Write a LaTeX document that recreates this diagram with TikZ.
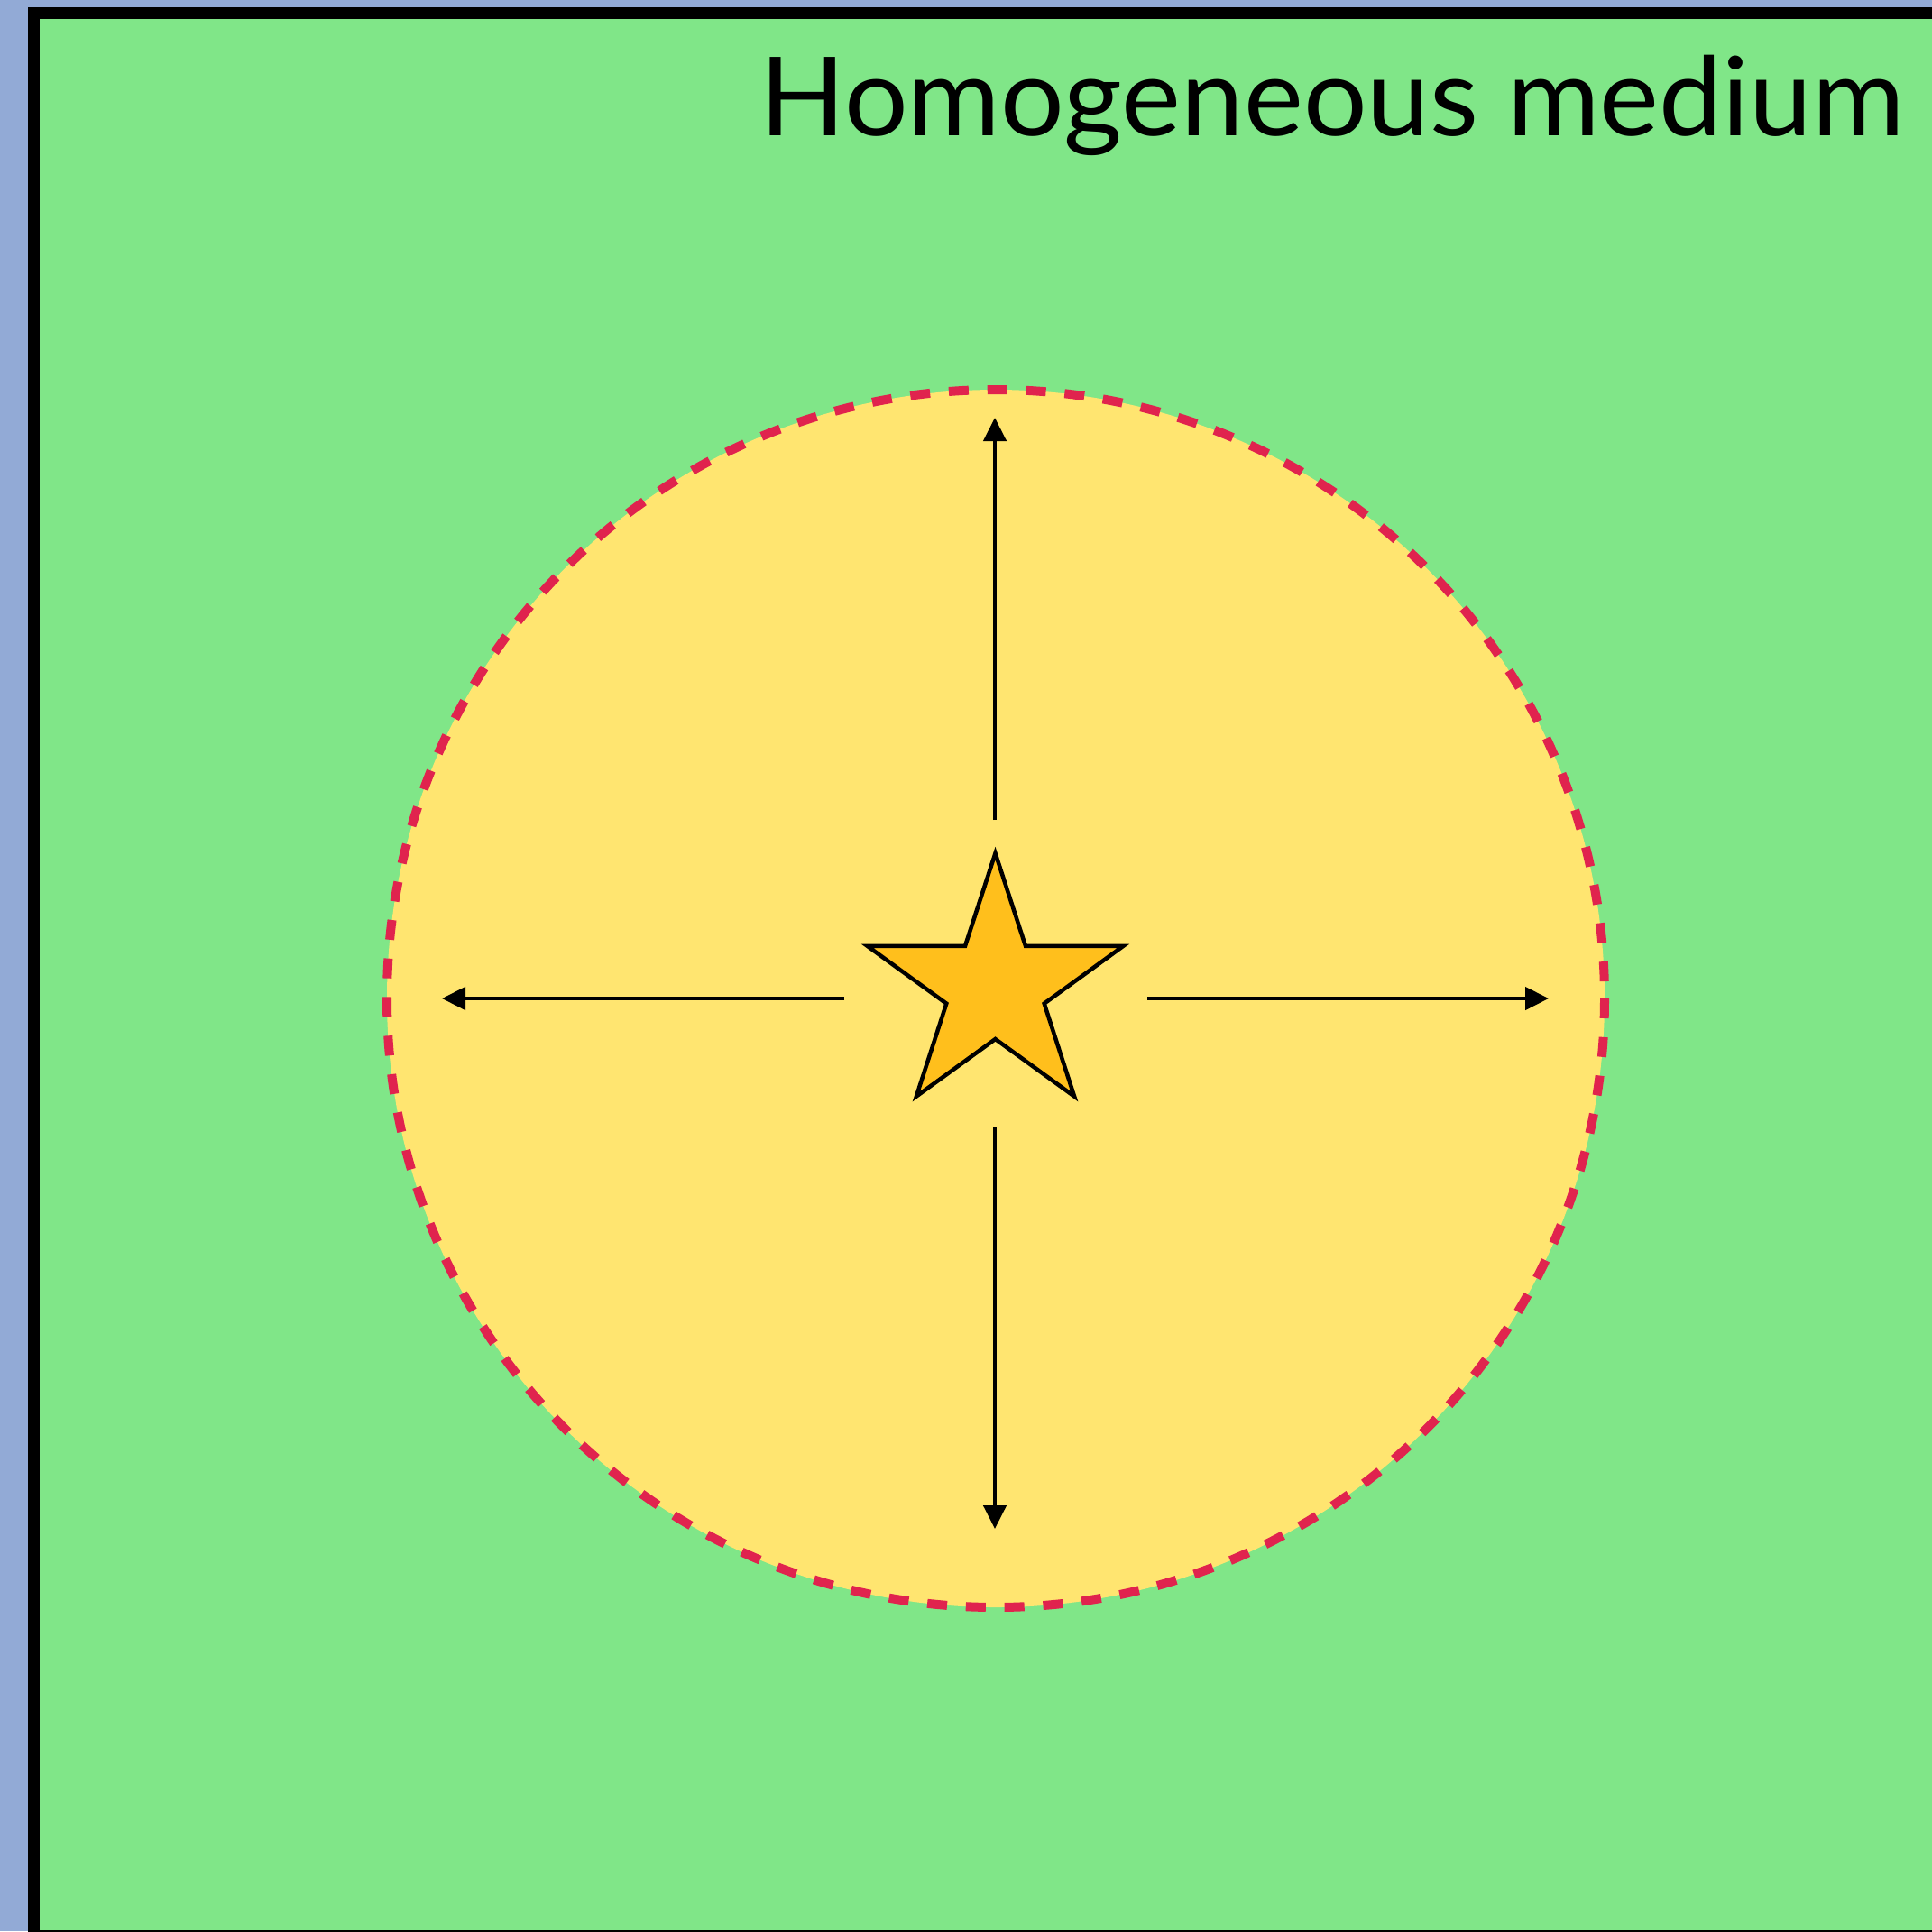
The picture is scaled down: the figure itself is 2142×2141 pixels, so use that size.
\documentclass[tikz,border=0pt]{standalone}
\usepackage{fontspec}
\setmainfont{Lato}
\usetikzlibrary{arrows.meta,calc}
\definecolor{bgblue}{HTML}{92AAD6}
\definecolor{medgreen}{HTML}{80E688}
\definecolor{zoneyellow}{HTML}{FFE570}
\definecolor{starfill}{HTML}{FFBF1C}
\definecolor{frontred}{HTML}{E0234E}
\tikzset{
  panel/.style={draw=black, line width=0.13cm, fill=medgreen},
  front/.style={draw=frontred, line width=0.1cm, dash pattern=on 0.22cm off 0.2084cm},
  ray/.style={draw=black, line width=0.045cm, -{Triangle[length=0.26cm, width=0.25cm]}},
  starshape/.style={draw=black, line width=0.045cm, fill=starfill, line join=miter},
  titletext/.style={anchor=base east, inner sep=0pt, font=\fontsize{34.5}{40}\selectfont}
}
\begin{document}
\begin{tikzpicture}[x=0.01cm, y=-0.01cm]
\useasboundingbox (0,0) rectangle (2142,2141);
\clip (0,0) rectangle (2142,2141);
\fill[bgblue] (0,0) rectangle (2142,2141);
\draw[panel] (37.5,14.5) rectangle (2170,2146.5);
\node[titletext] (title) at (2112,150) {\scalebox{1.028}[1]{Homogeneous medium}};
\coordinate (c) at (1104,1107);
\fill[zoneyellow] (c) circle[radius=675];
\draw[front] (c) circle[radius=675];
\coordinate (s) at (1103.5,1095);
\draw[starshape] ($(s)+(-90:149)$)
  \foreach \k in {0,...,4} { -- ($(s)+({-90+72*\k}:149)$) -- ($(s)+({-54+72*\k}:57)$) } -- cycle;
\coordinate (upS) at (1103,909);
\coordinate (upE) at (1103,463);
\coordinate (dnS) at (1103,1250);
\coordinate (dnE) at (1103,1695);
\coordinate (lfS) at (936,1107);
\coordinate (lfE) at (490,1107);
\coordinate (rtS) at (1272,1107);
\coordinate (rtE) at (1717,1107);
\draw[ray] (upS) -- (upE);
\draw[ray] (dnS) -- (dnE);
\draw[ray] (lfS) -- (lfE);
\draw[ray] (rtS) -- (rtE);
\end{tikzpicture}
\end{document}
